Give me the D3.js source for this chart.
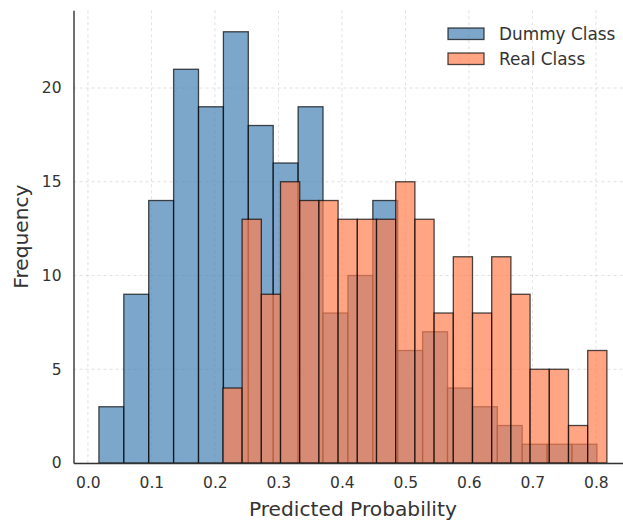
<!DOCTYPE html>
<html><head><meta charset="utf-8">
<script src="https://cdn.jsdelivr.net/npm/d3@7"></script>
<style>body{margin:0;background:#fff;} text{font-family:"DejaVu Sans",sans-serif;}</style>
</head><body><svg id="c" width="623" height="521"></svg>
<script>
const dummyCounts = [3, 9, 14, 21, 19, 23, 18, 16, 19, 8, 10, 14, 6, 7, 4, 3, 2, 1, 1, 1];
const dummyRange = [0.0173, 0.8016];
const realCounts = [4, 13, 9, 15, 14, 14, 13, 13, 13, 15, 13, 8, 11, 8, 11, 9, 5, 5, 2, 6];
const realRange = [0.2126, 0.8173];
const xTicks = [0.0, 0.1, 0.2, 0.3, 0.4, 0.5, 0.6, 0.7, 0.8];
const yTicks = [0, 5, 10, 15, 20];
const seriesNames = ["Dummy Class", "Real Class"];
const seriesColors = ["steelblue", "coral"];

const svg = d3.select("#c");
const m = {left: 73.5, top: 10.2, bottom: 463};
const x = d3.scaleLinear().domain([-0.0227, 0.8573]).range([m.left, m.left + 0.88 * 635]);
const y = d3.scaleLinear().domain([0, 24.15]).range([m.bottom, m.top]);

function bins(counts, range) {
  const w = (range[1] - range[0]) / counts.length;
  return counts.map((c, i) => ({x0: range[0] + i * w, x1: range[0] + (i + 1) * w, c}));
}

// grid
const g = svg.append("g");
g.selectAll(".gx").data(xTicks).join("line")
  .attr("x1", d => x(d)).attr("x2", d => x(d)).attr("y1", m.top).attr("y2", m.bottom)
  .attr("stroke", "#d0d0d0").attr("stroke-width", 0.8).attr("stroke-dasharray", "3,3").attr("opacity", 0.8);
g.selectAll(".gy").data(yTicks).join("line")
  .attr("x1", m.left).attr("x2", 623).attr("y1", d => y(d)).attr("y2", d => y(d))
  .attr("stroke", "#d0d0d0").attr("stroke-width", 0.8).attr("stroke-dasharray", "3,3").attr("opacity", 0.8);

[[dummyCounts, dummyRange], [realCounts, realRange]].forEach(([counts, range], k) => {
  svg.append("g").selectAll("rect").data(bins(counts, range)).join("rect")
    .attr("x", d => x(d.x0)).attr("width", d => x(d.x1) - x(d.x0))
    .attr("y", d => y(d.c)).attr("height", d => y(0) - y(d.c))
    .attr("fill", seriesColors[k]).attr("fill-opacity", 0.7)
    .attr("stroke", "#000").attr("stroke-opacity", 0.7).attr("stroke-width", 1.3);
});

// axes
const xa = svg.append("g").attr("transform", `translate(0,${m.bottom})`)
  .call(d3.axisBottom(x).tickValues(xTicks).tickFormat(d3.format(".1f")).tickSize(0).tickPadding(14));
const ya = svg.append("g").attr("transform", `translate(${m.left},0)`)
  .call(d3.axisLeft(y).tickValues(yTicks).tickSize(0).tickPadding(12));
[xa, ya].forEach(a => {
  a.select(".domain").attr("stroke", "#333").attr("stroke-width", 1.4);
  a.selectAll("text").attr("fill", "#333").attr("font-size", 15.5).attr("font-family", "DejaVu Sans");
});

svg.append("text").attr("x", (x.range()[0] + x.range()[1]) / 2).attr("y", 516).attr("text-anchor", "middle")
  .attr("font-size", 20.2).attr("fill", "#333").text("Predicted Probability");
svg.append("text").attr("transform", `translate(28,${(m.top + m.bottom) / 2}) rotate(-90)`)
  .attr("text-anchor", "middle").attr("font-size", 20.2).attr("fill", "#333").text("Frequency");

// legend
const lg = svg.append("g").attr("transform", "translate(448,28)");
seriesNames.forEach((n, i) => {
  lg.append("rect").attr("x", 0).attr("y", i * 25).attr("width", 36).attr("height", 11.5)
    .attr("fill", seriesColors[i]).attr("fill-opacity", 0.7)
    .attr("stroke", "#000").attr("stroke-opacity", 0.7).attr("stroke-width", 1.3);
  lg.append("text").attr("x", 51).attr("y", i * 25 + 11.5).attr("font-size", 16.9).attr("fill", "#333").text(n);
});
</script></body></html>
